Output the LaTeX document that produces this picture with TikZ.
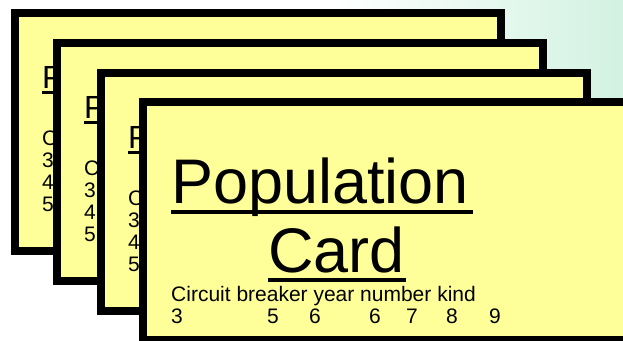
\documentclass[tikz,border=0pt]{standalone}
\usepackage{fontspec}
\setmainfont{Liberation Sans}
\usetikzlibrary{calc}
\definecolor{cardyellow}{HTML}{FFFF99}
\definecolor{mint}{HTML}{D2F2E2}
\newcommand{\cardul}[4]{\rlap{\vrule height \dimexpr-#1\relax depth \dimexpr#1+#2\relax width #3}#4}

\begin{document}
\begin{tikzpicture}[x=1pt, y=-1pt,
    card/.style={draw=black, fill=cardyellow, line width=8pt, inner sep=0pt, outer sep=0pt,
      minimum width=486pt, minimum height=238pt, anchor=north west},
    txt/.style={inner sep=0pt, anchor=base west, font=\fontsize{21}{22}\selectfont},
    bigtxt/.style={txt, font=\fontsize{63}{69}\selectfont}]
  \useasboundingbox (0,0) rectangle (623,340);
  \shade[left color=white, right color=mint] (330,0) rectangle (623,100);

  \foreach \i/\x/\y in {1/15/13, 2/57/43, 3/101/73} {
    \node[card] (card\i) at (\x,\y) {};
    \node[txt, font=\fontsize{32}{34}\selectfont] (title\i) at ($(card\i.north west)+(27,75)$)
      {\cardul{3pt}{2.5pt}{40pt}{P}};
    \node[txt] (head\i) at ($(card\i.north west)+(27,132)$) {C};
    \node[txt] (rowa\i) at ($(card\i.north west)+(27,154)$) {3};
    \node[txt] (rowb\i) at ($(card\i.north west)+(27,176)$) {4};
    \node[txt] (rowc\i) at ($(card\i.north west)+(27,198)$) {5};
  }

  \node[card] (card4) at (143,102) {};
  \node[bigtxt] (title4) at (171,203) {\cardul{7pt}{4pt}{302pt}{Population}};
  \node[bigtxt] (title4b) at (268,272) {\cardul{6pt}{4pt}{138pt}{Card}};
  \node[txt] (head4) at (171,301) {Circuit breaker year number kind};
  \foreach \x/\d [count=\k] in {171/3, 267/5, 309/6, 369/6, 406/7, 446/8, 489/9}
    \node[txt] (num\k) at (\x,323) {\d};
\end{tikzpicture}
\end{document}
